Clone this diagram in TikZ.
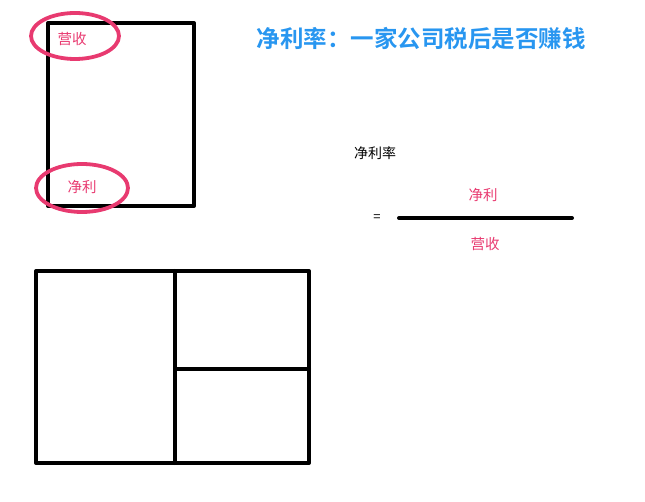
\documentclass[tikz,border=0pt]{standalone}
\usepackage{fontspec}
\newfontfamily\cjk{Noto Sans CJK SC}
\newfontfamily\cjkbold{Noto Sans CJK SC Bold}
\definecolor{rosered}{RGB}{232,58,112}
\definecolor{titleblue}{RGB}{40,150,240}
\tikzset{
	pinklabel/.style={text=rosered, font=\cjk\fontsize{14.5}{16}\selectfont},
	ring/.style={draw=rosered, line width=3.8pt},
	frame/.style={line width=4pt, line cap=round, line join=round}
}
\begin{document}
\begin{tikzpicture}[x=1pt, y=-1pt]
	\useasboundingbox (0,0) rectangle (645,502);

% title
	\node[text=titleblue, font=\cjkbold\fontsize{23.5}{28}\selectfont] (title) at (421,38) {净利率：一家公司税后是否赚钱};

% upper box with circled labels
	\draw[frame] (48,23) rectangle (194,206);
	\draw[ring] (75,36) ellipse (44pt and 23pt);
	\draw[ring] (82,188) ellipse (46pt and 24pt);
	\node[pinklabel] (rev) at (72,39) {营收};
	\node[pinklabel] (net) at (82,187) {净利};

% ratio
	\node[font=\cjk\fontsize{14}{16}\selectfont] (ratio) at (375,153) {净利率};
	\node[font=\cjk\fontsize{13}{15}\selectfont] (eq) at (377,218) {=};
	\coordinate (barl) at (399,218);
	\coordinate (barr) at (572,218);
	\draw[frame] (barl) -- (barr);
	\node[pinklabel] (num) at (483,195) {净利};
	\node[pinklabel] (den) at (485,244) {营收};

% lower box split in three
	\draw[frame] (36,271) rectangle (309,463);
	\draw[frame] (175,271) -- (175,463);
	\draw[frame] (175,369) -- (309,369);

\end{tikzpicture}
\end{document}
